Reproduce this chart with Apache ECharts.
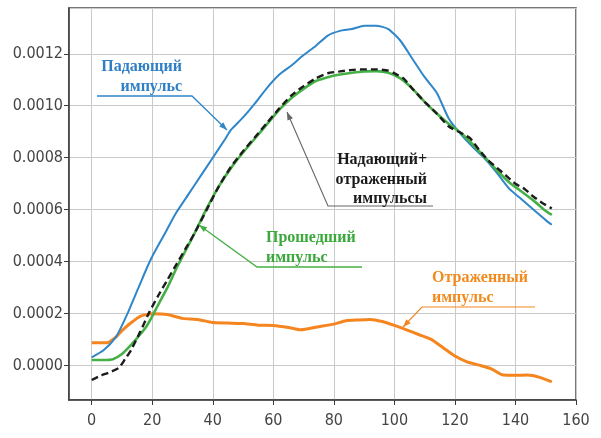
<!DOCTYPE html>
<html><head><meta charset="utf-8">
<script src="https://cdn.jsdelivr.net/npm/echarts@6/dist/echarts.min.js"></script>
<style>html,body{margin:0;padding:0;background:#fff}#c{width:601px;height:438px}</style>
</head><body><div id="c"></div>
<script>
// ---- data ----
const xTickLabels = [0, 20, 40, 60, 80, 100, 120, 140, 160];
const yTickLabels = ['0.0000','0.0002','0.0004','0.0006','0.0008','0.0010','0.0012'];

const incidentX = [0,4,8,10,12,14,16,18,20,24,28,32,36,40,44,46,50,54,58,62,66,70,74,78,82,86,90,94,98,102,106,110,114,118,122,126,130,134,138,142,146,150,152];
const incidentY = [0.32e-4,0.6e-4,1.1e-4,1.55e-4,2.05e-4,2.6e-4,3.15e-4,3.7e-4,4.2e-4,5.05e-4,5.9e-4,6.6e-4,7.3e-4,8.0e-4,8.7e-4,9.07e-4,9.55e-4,10.1e-4,10.7e-4,11.2e-4,11.55e-4,11.95e-4,12.3e-4,12.7e-4,12.88e-4,12.95e-4,13.08e-4,13.08e-4,12.95e-4,12.5e-4,11.8e-4,11.1e-4,10.5e-4,9.5e-4,8.9e-4,8.4e-4,7.95e-4,7.4e-4,6.8e-4,6.4e-4,6.0e-4,5.6e-4,5.42e-4];

const transmittedX = [0,4,7,10,13,16,18,20,22,25,28,30,34,38,42,46,50,54,58,62,66,70,74,78,82,86,90,94,98,102,106,110,114,118,122,126,130,134,138,142,146,150,152];
const transmittedY = [0.22e-4,0.22e-4,0.25e-4,0.45e-4,0.8e-4,1.2e-4,1.5e-4,1.9e-4,2.35e-4,3.0e-4,3.75e-4,4.2e-4,5.1e-4,6.05e-4,6.9e-4,7.6e-4,8.2e-4,8.75e-4,9.3e-4,9.85e-4,10.3e-4,10.65e-4,10.95e-4,11.1e-4,11.2e-4,11.27e-4,11.32e-4,11.33e-4,11.27e-4,11.05e-4,10.65e-4,10.15e-4,9.7e-4,9.3e-4,8.95e-4,8.5e-4,8.0e-4,7.5e-4,7.05e-4,6.7e-4,6.35e-4,5.95e-4,5.8e-4];

const sumX = [0,3,6,9,11,13,16,19,22,25,28,31,34,38,42,46,50,54,58,62,66,70,74,78,82,86,90,94,98,100,103,106,110,114,118,122,125,128,131,134,137,140,143,146,149,152];
const sumY = [-0.55e-4,-0.38e-4,-0.25e-4,-0.08e-4,0.25e-4,0.6e-4,1.3e-4,2.05e-4,2.7e-4,3.3e-4,3.9e-4,4.5e-4,5.1e-4,6.0e-4,6.9e-4,7.65e-4,8.25e-4,8.8e-4,9.35e-4,9.9e-4,10.4e-4,10.75e-4,11.05e-4,11.25e-4,11.32e-4,11.38e-4,11.4e-4,11.4e-4,11.35e-4,11.25e-4,11.05e-4,10.65e-4,10.15e-4,9.7e-4,9.2e-4,8.95e-4,8.75e-4,8.3e-4,7.9e-4,7.6e-4,7.3e-4,7.0e-4,6.8e-4,6.5e-4,6.25e-4,6.05e-4];

const reflectedX = [0,5,8,10,13,16,20,25,30,35,40,45,50,55,60,65,69,75,80,84,88,92,96,100,104,108,112,116,120,124,128,132,136,140,144,148,152];
const reflectedY = [0.88e-4,0.88e-4,1.1e-4,1.35e-4,1.65e-4,1.9e-4,2.0e-4,1.97e-4,1.82e-4,1.78e-4,1.66e-4,1.64e-4,1.62e-4,1.56e-4,1.55e-4,1.47e-4,1.38e-4,1.5e-4,1.6e-4,1.73e-4,1.76e-4,1.78e-4,1.7e-4,1.55e-4,1.38e-4,1.2e-4,1.02e-4,0.7e-4,0.37e-4,0.15e-4,0.02e-4,-0.12e-4,-0.36e-4,-0.37e-4,-0.36e-4,-0.45e-4,-0.62e-4];

const labels = {
  incident: ['Падающий', 'импульс'],
  sum: ['Надающий+', 'отраженный', 'импульсы'],
  transmitted: ['Прошедший', 'импульс'],
  reflected: ['Отраженный', 'импульс']
};

const zip = (xs, ys) => xs.map((x, i) => [x, ys[i]]);

const C = { blue: '#2f86c8', green: '#45b045', orange: '#f5851f', black: '#1c1c1c' };
const tickFont = "'Liberation Sans Narrow','DejaVu Sans Condensed',sans-serif";
const annFont = "'Liberation Serif','Times New Roman',serif";

const chart = echarts.init(document.getElementById('c'), null, { renderer: 'canvas' });

function isTick(v, step) { const r = v / step; return Math.abs(r - Math.round(r)) < 1e-6; }

function arrowGraphic(pts, color, lw) {
  const n = pts.length;
  const [x1, y1] = pts[n - 2], [x2, y2] = pts[n - 1];
  const a = Math.atan2(y2 - y1, x2 - x1);
  const L = 8, W = 3;
  const bx = x2 - L * Math.cos(a), by = y2 - L * Math.sin(a);
  const head = [[x2, y2], [bx + W * Math.sin(a), by - W * Math.cos(a)], [bx - W * Math.sin(a), by + W * Math.cos(a)]];
  return [
    { type: 'polyline', shape: { points: pts }, style: { stroke: color, lineWidth: lw, fill: null }, z: 100 },
    { type: 'polygon', shape: { points: head }, style: { fill: color }, z: 100 }
  ];
}
function textLines(lines, x, yTop, align, color) {
  return lines.map((t, i) => ({
    type: 'text', x: x, y: yTop + i * 19.5, z: 101,
    style: { text: t, fill: color, font: "bold 16px " + annFont, align: align, verticalAlign: 'middle' }
  }));
}

const graphics = [].concat(
  textLines(labels.incident, 182, 67, 'right', '#2f7fc6'),
  arrowGraphic([[97, 96], [192, 96], [227, 130]], C.blue, 1.3),
  textLines(labels.sum, 427, 160, 'right', '#1a1a1a'),
  arrowGraphic([[433, 206], [328, 206], [287, 112]], '#666', 1.1),
  textLines(labels.transmitted, 266, 238, 'left', '#3aa83a'),
  arrowGraphic([[362, 267], [257, 267], [199, 225]], C.green, 1.3),
  textLines(labels.reflected, 432, 278, 'left', '#f28a1e'),
  arrowGraphic([[535, 307], [422, 307], [403, 327]], C.orange, 1.1)
);

const option = {
  backgroundColor: '#ffffff',
  animation: false,
  grid: { left: 69, top: 8, width: 507, height: 392, show: true, borderColor: '#4a4a4a', borderWidth: 1.5, backgroundColor: 'transparent' },
  xAxis: {
    type: 'value', min: -7.5, max: 160, splitNumber: 8,
    axisLine: { show: true, onZero: false, lineStyle: { color: '#3a3a3a', width: 1.5 } },
    axisTick: { show: true, length: 5, inside: false, lineStyle: { color: '#3a3a3a' } },
    axisLabel: { showMinLabel: false, color: '#444', fontFamily: tickFont, fontSize: 16, margin: 13,
      formatter: v => (isTick(v, 20) && xTickLabels.indexOf(Math.round(v)) >= 0) ? String(Math.round(v)) : '' },
    splitLine: { show: true, lineStyle: { color: '#c9c9c9', width: 1 } }
  },
  yAxis: {
    type: 'value', min: -0.000132, max: 0.001376, splitNumber: 7,
    axisLine: { show: true, onZero: false, lineStyle: { color: '#3a3a3a', width: 1.5 } },
    axisTick: { show: true, length: 5, inside: false, lineStyle: { color: '#3a3a3a' } },
    axisLabel: { showMinLabel: false, showMaxLabel: false, color: '#444', fontFamily: tickFont, fontSize: 16, margin: 6,
      formatter: v => { if (!isTick(v, 0.0002)) return ''; const i = Math.round(v / 0.0002); return yTickLabels[i] || ''; } },
    splitLine: { show: true, lineStyle: { color: '#c9c9c9', width: 1 } }
  },
  series: [
    { name: 'Отраженный импульс', type: 'line', data: zip(reflectedX, reflectedY), showSymbol: false, smooth: 0.2,
      lineStyle: { color: C.orange, width: 3 }, z: 3 },
    { name: 'Падающий импульс', type: 'line', data: zip(incidentX, incidentY), showSymbol: false, smooth: 0.2,
      lineStyle: { color: C.blue, width: 2 }, z: 4 },
    { name: 'Прошедший импульс', type: 'line', data: zip(transmittedX, transmittedY), showSymbol: false, smooth: 0.2,
      lineStyle: { color: C.green, width: 2.6 }, z: 5 },
    { name: 'Надающий+отраженный импульсы', type: 'line', data: zip(sumX, sumY), showSymbol: false, smooth: 0.2,
      lineStyle: { color: C.black, width: 2.4, type: [7, 4] }, z: 6 }
  ],
  graphic: graphics
};
chart.setOption(option);
</script>
</body></html>
